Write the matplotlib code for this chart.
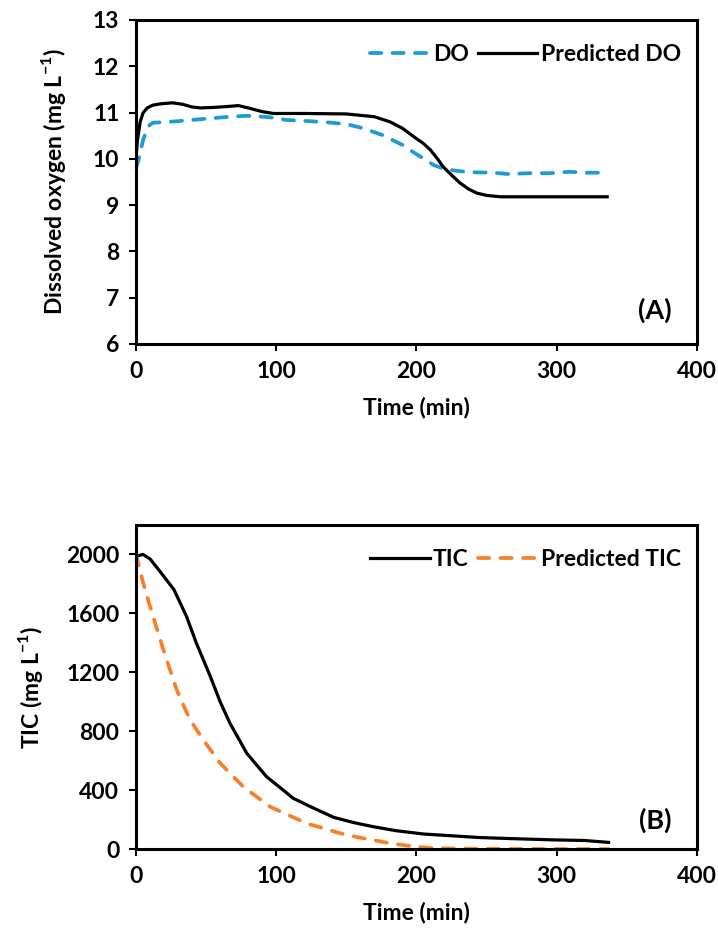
import matplotlib
matplotlib.use('Agg')
import matplotlib.pyplot as plt

# ── Data ───────────────────────────────────────────────────────────────

# (A) dissolved oxygen, mg/L
do_t = [0, 2, 5, 8.6, 12, 24, 40, 55, 67, 79, 95, 107, 120, 136, 150, 162,
        176, 190, 200, 207, 212, 218, 224, 232, 240, 255, 266, 280, 295,
        309, 320, 336]
do_v = [9.80, 10.0, 10.4, 10.7, 10.78, 10.80, 10.84, 10.88, 10.91, 10.93,
        10.90, 10.84, 10.82, 10.79, 10.75, 10.66, 10.51, 10.30, 10.10, 9.97,
        9.87, 9.80, 9.76, 9.73, 9.71, 9.70, 9.67, 9.69, 9.69, 9.72, 9.70,
        9.70]

pdo_t = [0, 1, 3, 5, 8, 12, 18, 26, 33, 40, 46, 55, 65, 73, 80, 90, 98,
         120, 150, 170, 181, 190, 198, 205, 210, 215, 219, 225, 231, 237,
         243, 250, 260, 280, 310, 336]
pdo_v = [10.0, 10.4, 10.8, 10.99, 11.10, 11.16, 11.19, 11.21, 11.18, 11.12,
         11.10, 11.11, 11.13, 11.15, 11.10, 11.02, 10.98, 10.98, 10.97,
         10.91, 10.80, 10.66, 10.48, 10.33, 10.19, 10.0, 9.83, 9.65, 9.48,
         9.35, 9.26, 9.21, 9.18, 9.18, 9.18, 9.18]

# (B) total inorganic carbon, mg/L
tic_t = [0, 5, 10, 17, 27, 36, 43, 53, 60, 67, 79, 93, 105, 112, 125, 141,
         155, 169, 185, 205, 225, 245, 270, 298, 320, 337]
tic_v = [1988, 2000, 1970, 1886, 1762, 1580, 1399, 1172, 1000, 854, 650,
         492, 400, 345, 285, 215, 180, 152, 125, 102, 90, 78, 70, 62, 58, 45]

ptic_t = [0, 5, 10, 19.5, 29, 38.5, 48, 60, 76.5, 95.5, 121.7, 150, 181,
          200, 210, 230, 260, 300, 337]
ptic_v = [2000, 1810, 1648, 1354, 1082, 878, 741, 583, 423, 288, 174, 95,
          39, 15, 7, 3, 1, 0, 0]

BLUE = '#1E9BD7'
ORANGE = '#F5822A'

plt.rcParams['font.family'] = ['Lato', 'DejaVu Sans']
plt.rcParams['font.weight'] = 'bold'
plt.rcParams['mathtext.fontset'] = 'custom'
plt.rcParams['mathtext.rm'] = 'Lato:bold'
plt.rcParams['mathtext.bf'] = 'Lato:bold'
FS = 16.5

fig = plt.figure(figsize=(7.18, 9.33), dpi=100)
ax1 = fig.add_axes([0.1894, 0.6313, 0.7813, 0.3473])
ax2 = fig.add_axes([0.1894, 0.0900, 0.7813, 0.3473])

dash = dict(linestyle=(0, (3.0, 3.0)), dash_capstyle='round', linewidth=2.7)

ax1.plot(do_t, do_v, color=BLUE, label='DO', **dash)
ax1.plot(pdo_t, pdo_v, color='black', linewidth=2.3, label='Predicted DO')
ax1.set_ylim(6, 13)
ax1.set_yticks(range(6, 14))
ax1.set_ylabel('Dissolved oxygen (mg L$^{\\mathbf{-1}}$)', fontsize=FS,
               fontweight='bold', labelpad=18)
ax1.text(370, 6.73, '(A)', fontsize=FS + 3, fontweight='bold',
         ha='center', va='center')

ax2.plot(tic_t, tic_v, color='black', linewidth=2.3, label='TIC')
ax2.plot(ptic_t, ptic_v, color=ORANGE, label='Predicted TIC', **dash)
ax2.set_ylim(0, 2200)
ax2.set_yticks(range(0, 2001, 400))
ax2.set_ylabel('TIC (mg L$^{\\mathbf{-1}}$)', fontsize=FS, fontweight='bold',
               labelpad=15)
ax2.text(370, 197, '(B)', fontsize=FS + 3, fontweight='bold',
         ha='center', va='center')

for ax in (ax1, ax2):
    ax.set_xlim(0, 400)
    ax.set_xticks(range(0, 401, 100))
    ax.set_xlabel('Time (min)', fontsize=FS, fontweight='bold', labelpad=11)
    ax.tick_params(direction='out', length=5, width=1.5, labelsize=FS,
                   pad=7)
    for s in ax.spines.values():
        s.set_linewidth(2.2)
    ax.legend(loc='upper right', bbox_to_anchor=(1.0, 0.975), ncol=2,
              frameon=False, fontsize=FS, handlelength=2.6,
              handletextpad=0.15, columnspacing=0.4, borderaxespad=0.3)

fig.savefig('out.png', dpi=100)
